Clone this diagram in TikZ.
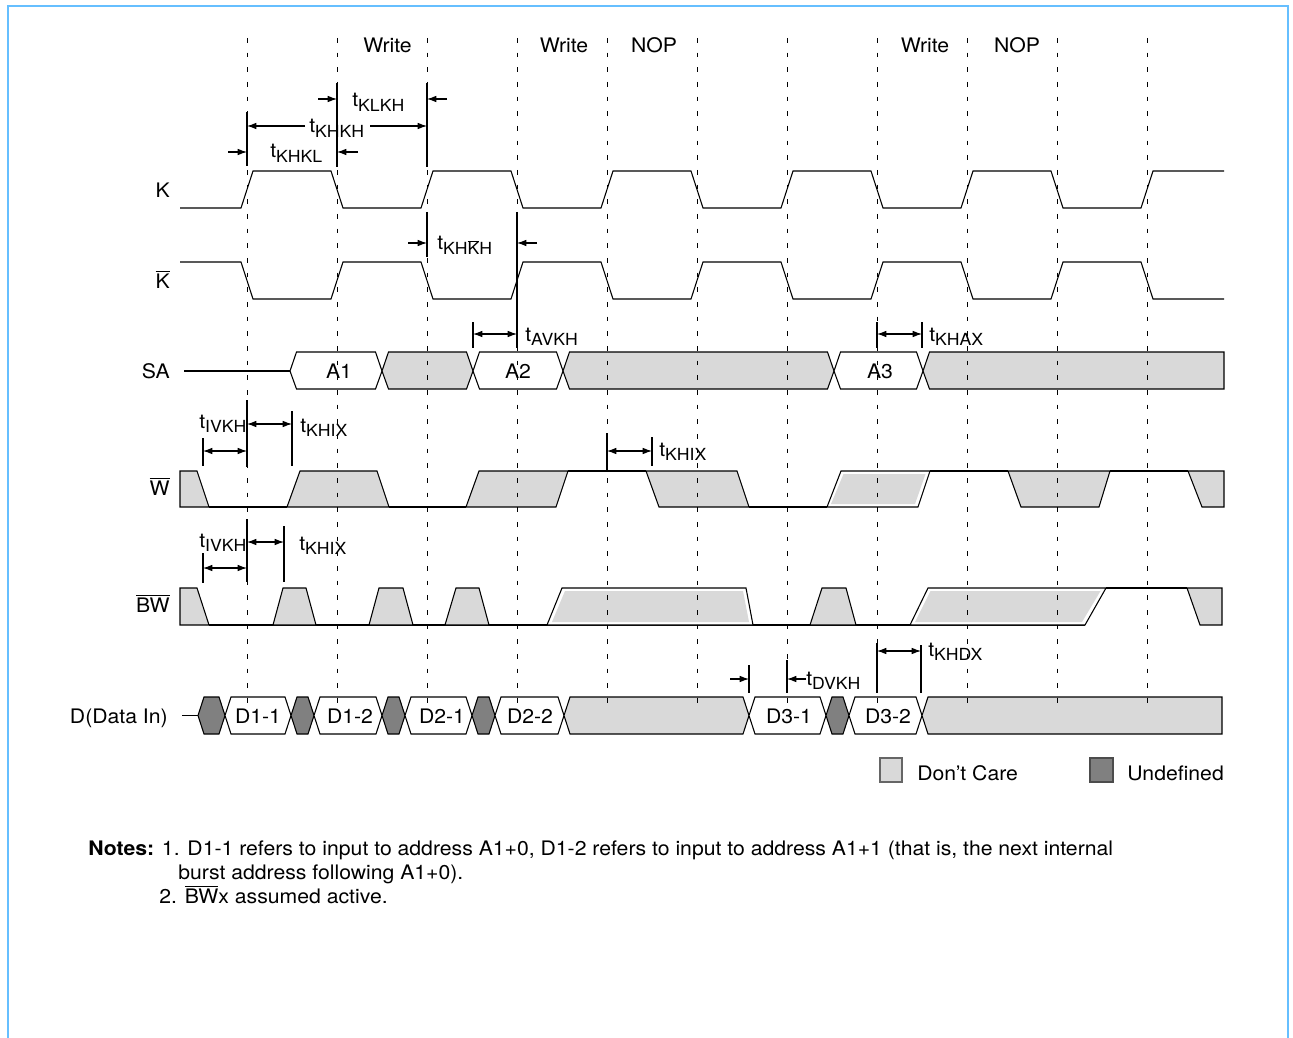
\documentclass[tikz,border=0pt]{standalone}
\usepackage{fontspec}
\setmainfont{TeX Gyre Heros}[FakeStretch=1.06]
\usetikzlibrary{arrows.meta}

\definecolor{dontcare}{RGB}{217,217,217}
\definecolor{undefgray}{RGB}{128,128,128}
\definecolor{frameblue}{RGB}{102,191,255}

\newcommand{\tsub}[1]{t\raisebox{-3.6pt}{\fontsize{12.5}{13}\selectfont #1}}
\newcommand{\ovl}[1]{$\overline{\mbox{#1}}$}

\begin{document}
\begin{tikzpicture}[x=0.75pt,y=-0.75pt,
  font=\fontsize{15}{18}\selectfont,
  sig/.style={line width=0.8pt},
  grid/.style={line width=0.7pt,dash pattern=on 3.5pt off 7.5pt},
  tmark/.style={line width=0.8pt},
  tarr/.style={line width=0.8pt,-{Latex[length=7pt,width=5pt]}},
  tdbl/.style={line width=0.8pt,{Latex[length=7pt,width=5pt]}-{Latex[length=7pt,width=5pt]}},
  dc/.style={draw,line width=0.8pt,fill=dontcare},
  undef/.style={draw,line width=0.8pt,fill=undefgray},
  valid/.style={draw,line width=0.8pt,fill=white},
  lbl/.style={inner sep=0pt}]
\useasboundingbox (0,0) rectangle (1293,1038);
\draw[frameblue,line width=1.5pt] (8,1038) -- (8,6) -- (1288,6) -- (1288,1038);

% clocks
\draw[sig] (180,208) \foreach \i in {0,...,4} {-- ({241+180*\i},208) -- ({253+180*\i},171) -- ({331+180*\i},171) -- ({343+180*\i},208)} -- (1141,208) -- (1153,171) -- (1224,171);
\draw[sig] (180,262) \foreach \i in {0,...,4} {-- ({241+180*\i},262) -- ({253+180*\i},299) -- ({331+180*\i},299) -- ({343+180*\i},262)} -- (1141,262) -- (1153,299) -- (1224,299);

% address bus
\draw[sig] (184,371) -- (290,371);
\foreach \a/\b/\s in {290/382/valid,382/473/dc,473/563/valid,563/834/dc,834/923/valid}
  \draw[\s] (\a,371) -- (\a+6.5,352) -- (\b-6.5,352) -- (\b,371) -- (\b-6.5,389) -- (\a+6.5,389) -- cycle;
\draw[dc] (923,371) -- (929.5,352) -- (1224,352) -- (1224,389) -- (929.5,389) -- cycle;

% W
\draw[sig] (209,507) -- (287,507);
\draw[sig] (389,507) -- (466,507);
\draw[sig] (568,471) -- (646,471);
\draw[sig] (749,507) -- (827,507);
\draw[sig] (930,471) -- (1008,471);
\draw[sig] (1110,471) -- (1188,471);
\draw[dc] (180,471) -- (197,471) -- (209,507) -- (180,507) -- cycle;
\draw[dc] (287,507) -- (300,471) -- (377,471) -- (389,507) -- cycle;
\draw[dc] (466,507) -- (479,471) -- (568,471) -- (556,507) -- cycle;
\draw[dc] (646,471) -- (737,471) -- (749,507) -- (659,507) -- cycle;
\draw[valid] (827,507) -- (841,471) -- (930,471) -- (918,507) -- cycle;
\fill[dontcare] (831,504) -- (843.5,474) -- (925.5,474) -- (915,504) -- cycle;
\draw[dc] (1008,471) -- (1110,471) -- (1099,507) -- (1021,507) -- cycle;
\draw[dc] (1188,471) -- (1224,471) -- (1224,507) -- (1202,507) -- cycle;

% BW
\draw[sig] (209,625) -- (1085,625);
\draw[sig] (1106,588) -- (1187,588);
\draw[dc] (180,588) -- (197,588) -- (209,625) -- (180,625) -- cycle;
\draw[dc] (273,625) -- (283,588) -- (306,588) -- (316,625) -- cycle;
\draw[dc] (369,625) -- (379,588) -- (403,588) -- (413,625) -- cycle;
\draw[dc] (445,625) -- (456,588) -- (479,588) -- (489,625) -- cycle;
\draw[valid] (547,625) -- (562,588) -- (746,588) -- (753,625) -- cycle;
\fill[dontcare] (552,622) -- (565,591) -- (743,591) -- (749,622) -- cycle;
\draw[dc] (810,625) -- (822,588) -- (846,588) -- (856,625) -- cycle;
\draw[valid] (910,625) -- (928,588) -- (1106,588) -- (1085,625) -- cycle;
\fill[dontcare] (915,622) -- (930.5,591) -- (1100.5,591) -- (1082,622) -- cycle;
\draw[dc] (1187,588) -- (1222,588) -- (1222,625) -- (1200,625) -- cycle;

% data bus
\draw[sig] (182,715.5) -- (198,715.5);
\foreach \a/\b/\s in {198/225/undef,225/291/valid,291/314/undef,314/382/valid,382/405/undef,405/472/valid,472/495/undef,495/564/valid,564/749/dc,749/826/valid,826/849/undef,849/922/valid}
  \draw[\s] (\a,715.5) -- (\a+6,697) -- (\b-6,697) -- (\b,715.5) -- (\b-6,734) -- (\a+6,734) -- cycle;
\draw[dc] (922,715.5) -- (928,697) -- (1222,697) -- (1222,734) -- (928,734) -- cycle;

% clock edges
\foreach \x in {247,337,...,1147}
  \draw[grid] (\x,38) -- (\x,703);

% row names
\node[lbl,anchor=base east] (lk) at (170,198) {K};
\node[lbl,anchor=base east] (lkb) at (170,288) {\ovl{K}};
\node[lbl,anchor=base east] (lsa) at (170,378) {SA};
\node[lbl,anchor=base east] (lw) at (170,495) {\ovl{W}};
\node[lbl,anchor=base east] (lbw) at (170,612) {\ovl{BW}};
\node[lbl,anchor=base east] (ld) at (168,723) {D(Data In)};

% operations
\node[lbl,anchor=base] (op1) at (387.5,53) {Write};
\node[lbl,anchor=base] (op2) at (564,53) {Write};
\node[lbl,anchor=base] (op3) at (654,53) {NOP};
\node[lbl,anchor=base] (op4) at (925,53) {Write};
\node[lbl,anchor=base] (op5) at (1017,53) {NOP};

% bus contents
\node[lbl,anchor=base] (a1) at (339,378) {A1};
\node[lbl,anchor=base] (a2) at (518,378) {A2};
\node[lbl,anchor=base] (a3) at (880,378) {A3};
\node[lbl,anchor=base] (d11) at (258,723) {D1-1};
\node[lbl,anchor=base] (d12) at (350,723) {D1-2};
\node[lbl,anchor=base] (d21) at (442,723) {D2-1};
\node[lbl,anchor=base] (d22) at (530,723) {D2-2};
\node[lbl,anchor=base] (d31) at (789,723) {D3-1};
\node[lbl,anchor=base] (d32) at (888,723) {D3-2};

% clock timing
\draw[tmark] (247,112) -- (247,166);
\draw[tmark] (337,83) -- (337,167);
\draw[tmark] (427,83) -- (427,167);
\draw[tarr] (318,99) -- (337,99);
\draw[tarr] (447,99) -- (427,99);
\node[lbl,anchor=base west] (tklkh) at (352,107) {\tsub{KLKH}};
\draw[tarr] (305,126) -- (247,126);
\draw[tarr] (370,126) -- (427,126);
\node[lbl,anchor=base west] (tkhkh) at (309,133) {\tsub{KHKH}};
\draw[tarr] (228,152) -- (247,152);
\draw[tarr] (358,152) -- (337,152);
\node[lbl,anchor=base west] (tkhkl) at (270,158) {\tsub{KHKL}};
\draw[tmark] (427,212) -- (427,257);
\draw[tmark] (517,212) -- (517,348);
\draw[tarr] (408,243) -- (427,243);
\draw[tarr] (537,243) -- (517,243);
\node[lbl,anchor=base west] (tkhkbh) at (437,250) {\tsub{KH\ovl{K}H}};

% address timing
\draw[tmark] (473,322) -- (473,348);
\draw[tdbl] (473,334) -- (517,334);
\node[lbl,anchor=base west] (tavkh) at (525,341) {\tsub{AVKH}};
\draw[tmark] (877,322) -- (877,348);
\draw[tmark] (922,322) -- (922,348);
\draw[tdbl] (877,334) -- (922,334);
\node[lbl,anchor=base west] (tkhax) at (929,341) {\tsub{KHAX}};

% W timing
\draw[tmark] (203,438) -- (203,466);
\draw[tmark] (247,400) -- (247,467);
\draw[tmark] (292,411) -- (292,466);
\draw[tdbl] (203,451) -- (247,451);
\draw[tdbl] (247,424) -- (292,424);
\node[lbl,anchor=base west] (tivkha) at (199,428) {\tsub{IVKH}};
\node[lbl,anchor=base west] (tkhixa) at (300,432) {\tsub{KHIX}};
\draw[tmark] (607,433) -- (607,470);
\draw[tmark] (652,437) -- (652,466);
\draw[tdbl] (607,451) -- (652,451);
\node[lbl,anchor=base west] (tkhixb) at (659,456) {\tsub{KHIX}};

% BW timing
\draw[tmark] (203,553) -- (203,583);
\draw[tmark] (247,519) -- (247,582);
\draw[tmark] (284,526) -- (284,582);
\draw[tdbl] (203,568) -- (247,568);
\draw[tdbl] (247,542) -- (284,542);
\node[lbl,anchor=base west] (tivkhb) at (199,547) {\tsub{IVKH}};
\node[lbl,anchor=base west] (tkhixc) at (299,550) {\tsub{KHIX}};

% data timing
\draw[tmark] (749,665) -- (749,693);
\draw[tmark] (787,660) -- (787,693);
\draw[tarr] (730,679) -- (749,679);
\draw[tarr] (806,679) -- (787,679);
\node[lbl,anchor=base west] (tdvkh) at (806,685) {\tsub{DVKH}};
\draw[tmark] (877,643) -- (877,693);
\draw[tmark] (921,645) -- (921,693);
\draw[tdbl] (877,651) -- (921,651);
\node[lbl,anchor=base west] (tkhdx) at (928,656) {\tsub{KHDX}};

% legend
\draw[fill=dontcare,draw=black!60,line width=0.8pt] (880,758) rectangle (902,782);
\node[lbl,anchor=base west] (ldc) at (917,780) {Don’t Care};
\draw[fill=undefgray,draw=black!70,line width=0.8pt] (1090,758) rectangle (1113,782);
\node[lbl,anchor=base west] (lud) at (1127,780) {Undefined};

% notes
\node[lbl,anchor=base west] (note1) at (88,855) {\textbf{Notes:} 1. D1-1 refers to input to address A1+0, D1-2 refers to input to address A1+1 (that is, the next internal};
\node[lbl,anchor=base west] (note2) at (178,879) {burst address following A1+0).};
\node[lbl,anchor=base west] (note3) at (159,903) {2. \ovl{BW}x assumed active.};
\end{tikzpicture}
\end{document}
